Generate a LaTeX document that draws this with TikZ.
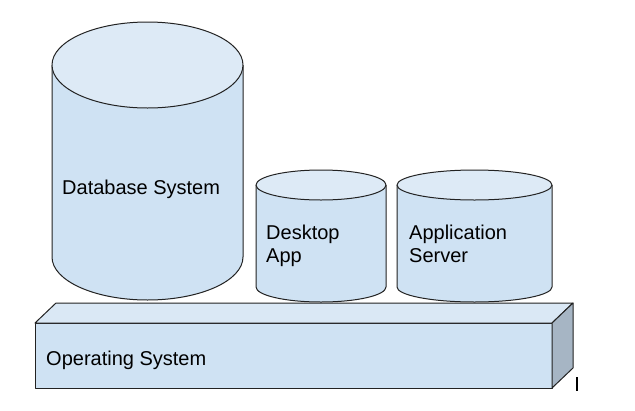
\documentclass[tikz,border=0pt]{standalone}
\usepackage{fontspec}
\setmainfont{Liberation Sans}
\definecolor{cylfill}{HTML}{CFE2F3}
\definecolor{cyltop}{HTML}{DDEAF6}
\definecolor{boxtop}{HTML}{DAE8F5}
\definecolor{boxside}{HTML}{A6B5C4}
\definecolor{edge}{HTML}{222222}
\tikzset{
  outline/.style={draw=edge, line width=1pt, line join=round},
  lbl/.style={anchor=base west, inner sep=0pt, align=left, font=\fontsize{20}{23}\selectfont, text=black}
}
\begin{document}
\begin{tikzpicture}[x=1pt,y=-1pt]
\useasboundingbox (0,0) rectangle (635,410);
% platform box
\filldraw[outline, fill=cylfill] (35,323) rectangle (552,388);
\filldraw[outline, fill=boxtop] (35,323) -- (56,303) -- (573,303) -- (552,323) -- cycle;
\filldraw[outline, fill=boxside] (552,323) -- (573,303) -- (573,368) -- (552,388) -- cycle;
\draw[line width=1.3pt] (577,377) -- (577,391);
% database cylinder
\fill[cylfill] (52,65) -- (52,257) arc[start angle=180,end angle=360,x radius=95.5pt,y radius=43pt] -- (243,65) -- cycle;
\draw[outline] (52,65) -- (52,257) arc[start angle=180,end angle=360,x radius=95.5pt,y radius=43pt] -- (243,65);
\filldraw[outline, fill=cyltop] (147.5,65) ellipse[x radius=95.5pt,y radius=43pt];
% desktop app cylinder
\fill[cylfill] (256,185) -- (256,287) arc[start angle=180,end angle=360,x radius=65pt,y radius=15pt] -- (386,185) -- cycle;
\draw[outline] (256,185) -- (256,287) arc[start angle=180,end angle=360,x radius=65pt,y radius=15pt] -- (386,185);
\filldraw[outline, fill=cyltop] (321,185) ellipse[x radius=65pt,y radius=15pt];
% application server cylinder
\fill[cylfill] (397,185) -- (397,287) arc[start angle=180,end angle=360,x radius=77.5pt,y radius=15pt] -- (552,185) -- cycle;
\draw[outline] (397,185) -- (397,287) arc[start angle=180,end angle=360,x radius=77.5pt,y radius=15pt] -- (552,185);
\filldraw[outline, fill=cyltop] (474.5,185) ellipse[x radius=77.5pt,y radius=15pt];
% labels
\node[lbl] (db) at (62,194) {Database System};
\node[lbl] (desk) at (266,262) {Desktop\\App};
\node[lbl] (app) at (409,262) {Application\\Server};
\node[lbl] (os) at (46,365) {Operating System};
\end{tikzpicture}
\end{document}
